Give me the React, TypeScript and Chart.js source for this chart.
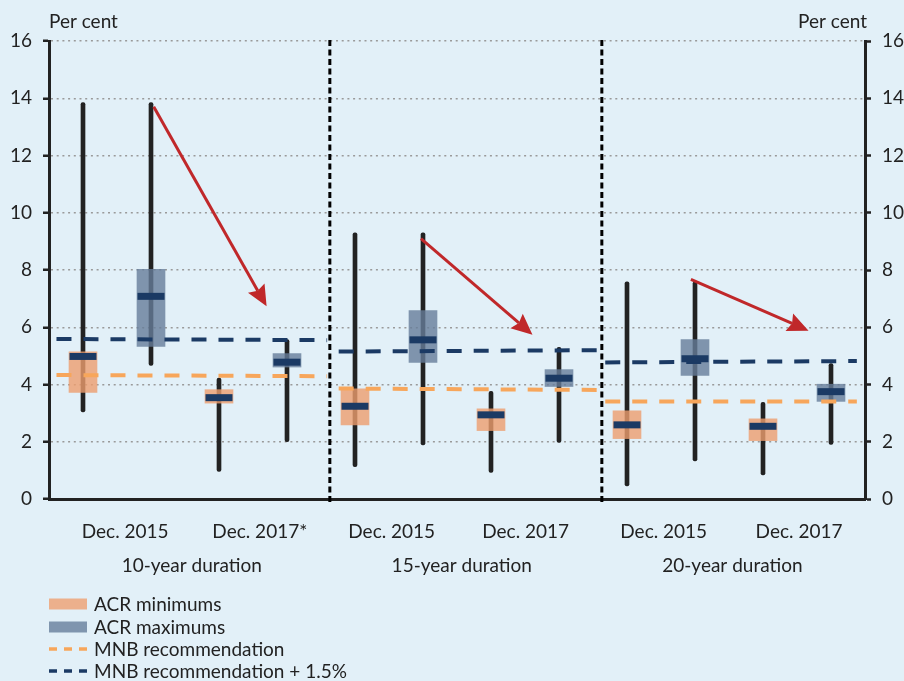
import React, { useEffect, useRef } from "react";
import { Chart, registerables } from "chart.js";

Chart.register(...registerables);

// ---------- data ----------
const periodLabels = ["Dec. 2015", "Dec. 2017*", "Dec. 2015", "Dec. 2017", "Dec. 2015", "Dec. 2017"];
const periodLabelPos = [0.62, 2.6, 4.54, 6.51, 8.54, 10.53];
const groupLabels = ["10-year duration", "15-year duration", "20-year duration"];
const groupLabelPos = [1.6, 5.57, 9.55];

// 12 boxes, per group: Dec.2015 min, Dec.2015 max, Dec.2017 min, Dec.2017 max
const boxKinds = ["min", "max", "min", "max", "min", "max", "min", "max", "min", "max", "min", "max"];
const whiskerLow = [3.04, 4.67, 0.96, 2.0, 1.13, 1.89, 0.93, 1.98, 0.46, 1.33, 0.84, 1.91];
const whiskerHigh = [13.85, 13.85, 4.22, 5.57, 9.3, 9.3, 3.76, 5.3, 7.59, 7.59, 3.38, 4.73];
const boxLow = [3.72, 5.33, 3.35, 4.61, 2.59, 4.77, 2.39, 3.93, 2.11, 4.32, 2.04, 3.41];
const boxHigh = [5.14, 8.02, 3.82, 5.08, 3.85, 6.58, 3.15, 4.52, 3.08, 5.57, 2.8, 4.01];
const medians = [4.98, 7.08, 3.54, 4.78, 3.24, 5.56, 2.94, 4.22, 2.59, 4.9, 2.54, 3.75];

// MNB reference lines per duration group
const refStart = [-0.39, 3.76, 7.68];
const refEnd = [3.59, 7.58, 11.38];
const mnbRecStart = [4.33, 3.86, 3.41];
const mnbRecEnd = [4.29, 3.81, 3.41];
const mnbPlusStart = [5.59, 5.15, 4.77];
const mnbPlusEnd = [5.55, 5.2, 4.82];

const dividerPos = [3.63, 7.63];

const arrowFromX = [1.04, 4.97, 8.94];
const arrowFromY = [13.7, 9.1, 7.67];
const arrowToX = [2.7, 6.61, 10.67];
const arrowToY = [6.73, 5.74, 5.88];

const legendLabels = ["ACR minimums", "ACR maximums", "MNB recommendation", "MNB recommendation + 1.5%"];
const unitLabel = "Per cent";

// ---------- styles ----------
const BG = "#e2f0f8";
const TEXT = "#222222";
const ORANGE_BOX = "rgba(237,157,110,0.8)";
const BLUE_BOX = "rgba(102,125,154,0.8)";
const ORANGE_SWATCH = "#ecb08c";
const BLUE_SWATCH = "#7f95ae";
const NAVY = "#1b3a64";
const ORANGE_LINE = "#f7a65b";
const RED = "#c0282a";
const FONT = "Lato";
const FS = 19;

const decorPlugin = {
  id: "decor",
  beforeDatasetsDraw(chart: any) {
    const { ctx, chartArea, scales } = chart;
    const x = scales.x;
    ctx.save();
    ctx.strokeStyle = "#000";
    ctx.lineWidth = 3;
    ctx.setLineDash([6, 3.5]);
    dividerPos.forEach((d) => {
      const px = x.getPixelForValue(d);
      ctx.beginPath();
      ctx.moveTo(px, chartArea.top - 1);
      ctx.lineTo(px, chartArea.bottom + 6);
      ctx.stroke();
    });
    ctx.restore();
  },
  afterDatasetsDraw(chart: any) {
    const { ctx, scales } = chart;
    const x = scales.x;
    const y = scales.y;
    ctx.save();
    ctx.strokeStyle = RED;
    ctx.fillStyle = RED;
    ctx.lineWidth = 3;
    for (let i = 0; i < arrowFromX.length; i++) {
      const x0 = x.getPixelForValue(arrowFromX[i]);
      const y0 = y.getPixelForValue(arrowFromY[i]);
      const x1 = x.getPixelForValue(arrowToX[i]);
      const y1 = y.getPixelForValue(arrowToY[i]);
      const ang = Math.atan2(y1 - y0, x1 - x0);
      const headLen = 21;
      const headHalf = 9.5;
      const bx = x1 - Math.cos(ang) * headLen;
      const by = y1 - Math.sin(ang) * headLen;
      ctx.beginPath();
      ctx.moveTo(x0, y0);
      ctx.lineTo(bx + Math.cos(ang) * 3, by + Math.sin(ang) * 3);
      ctx.stroke();
      const nx = -Math.sin(ang);
      const ny = Math.cos(ang);
      const nb = 3;
      ctx.beginPath();
      ctx.moveTo(x1, y1);
      ctx.lineTo(bx + nx * headHalf, by + ny * headHalf);
      ctx.lineTo(bx + Math.cos(ang) * nb, by + Math.sin(ang) * nb);
      ctx.lineTo(bx - nx * headHalf, by - ny * headHalf);
      ctx.closePath();
      ctx.fill();
    }
    ctx.restore();
  },
  afterDraw(chart: any) {
    const { ctx, chartArea } = chart;
    ctx.save();
    ctx.fillStyle = TEXT;
    ctx.font = `${FS}px ${FONT}`;
    ctx.textBaseline = "alphabetic";
    ctx.textAlign = "left";
    ctx.fillText(unitLabel, chartArea.left, 28);
    ctx.textAlign = "right";
    ctx.fillText(unitLabel, chartArea.right + 2, 28);

    // legend
    const rows = [604, 627, 649, 671];
    const sx = 49;
    const sw = 38;
    ctx.textAlign = "left";
    ctx.textBaseline = "middle";
    legendLabels.forEach((lab, i) => {
      const cy = rows[i];
      if (i === 0 || i === 1) {
        ctx.fillStyle = i === 0 ? ORANGE_SWATCH : BLUE_SWATCH;
        ctx.fillRect(sx, cy - 5.5, sw, 11);
      } else {
        ctx.strokeStyle = i === 2 ? ORANGE_LINE : NAVY;
        ctx.lineWidth = 3.5;
        ctx.setLineDash([8, 7]);
        ctx.beginPath();
        ctx.moveTo(sx, cy);
        ctx.lineTo(sx + sw, cy);
        ctx.stroke();
        ctx.setLineDash([]);
      }
      ctx.fillStyle = TEXT;
      ctx.fillText(lab, 94, cy + 1);
    });
    ctx.restore();
  },
};

export default function App() {
  const ref = useRef<HTMLCanvasElement | null>(null);

  useEffect(() => {
    if (!ref.current) return;
    Chart.defaults.font.family = FONT;
    Chart.defaults.font.size = FS;
    Chart.defaults.color = TEXT;

    const idx = boxKinds.map((_, i) => i);
    const datasets: any[] = [];

    datasets.push({
      type: "bar",
      label: "whiskers",
      data: idx.map((i) => ({ x: i, y: [whiskerLow[i], whiskerHigh[i]] })),
      backgroundColor: "#222222",
      barThickness: 4,
      borderRadius: 2,
      borderSkipped: false,
      borderWidth: 0,
      grouped: false,
      order: 6,
    });
    datasets.push({
      type: "bar",
      label: legendLabels[0],
      data: idx.filter((i) => boxKinds[i] === "min").map((i) => ({ x: i, y: [boxLow[i], boxHigh[i]] })),
      backgroundColor: ORANGE_BOX,
      barThickness: 28,
      borderWidth: 0,
      grouped: false,
      order: 5,
    });
    datasets.push({
      type: "bar",
      label: legendLabels[1],
      data: idx.filter((i) => boxKinds[i] === "max").map((i) => ({ x: i, y: [boxLow[i], boxHigh[i]] })),
      backgroundColor: BLUE_BOX,
      barThickness: 28,
      borderWidth: 0,
      grouped: false,
      order: 5,
    });
    for (let g = 0; g < refStart.length; g++) {
      datasets.push({
        type: "line",
        label: legendLabels[2],
        data: [
          { x: refStart[g], y: mnbRecStart[g] },
          { x: refEnd[g], y: mnbRecEnd[g] },
        ],
        borderColor: ORANGE_LINE,
        borderWidth: 4,
        borderDash: [15, 12],
        pointRadius: 0,
        fill: false,
        order: 3,
      });
      datasets.push({
        type: "line",
        label: legendLabels[3],
        data: [
          { x: refStart[g], y: mnbPlusStart[g] },
          { x: refEnd[g], y: mnbPlusEnd[g] },
        ],
        borderColor: NAVY,
        borderWidth: 4,
        borderDash: [15, 12],
        pointRadius: 0,
        fill: false,
        order: 3,
      });
    }
    datasets.push({
      type: "line",
      label: "medians",
      data: idx.map((i) => ({ x: i, y: medians[i] })),
      showLine: false,
      pointStyle: "line",
      pointRadius: 13.5,
      pointBorderWidth: 7,
      pointBorderColor: NAVY,
      pointBackgroundColor: NAVY,
      order: 1,
    });

    const chart = new Chart(ref.current, {
      type: "bar",
      data: { datasets },
      plugins: [decorPlugin],
      options: {
        animation: false,
        responsive: false,
        events: [],
        layout: { padding: { top: 41, left: 0, right: 0, bottom: 100 } },
        plugins: {
          legend: { display: false },
          tooltip: { enabled: false },
        },
        scales: {
          x: {
            type: "linear",
            position: "bottom",
            min: -0.5,
            max: 11.5,
            offset: false,
            weight: 0,
            grid: { display: false, drawTicks: false, offset: false },
            border: { display: true, color: "#222222", width: 3 },
            afterBuildTicks: (s: any) => {
              s.ticks = periodLabelPos.map((v) => ({ value: v }));
            },
            afterFit: (s: any) => {
              s.height = 48;
            },
            ticks: {
              autoSkip: false,
              maxRotation: 0,
              padding: 21,
              color: TEXT,
              font: { size: FS, family: FONT },
              callback: (_v: any, i: number) => periodLabels[i],
            },
          },
          x2: {
            type: "linear",
            position: "bottom",
            min: -0.5,
            max: 11.5,
            offset: false,
            weight: 1,
            grid: { display: false, drawTicks: false, offset: false },
            border: { display: false },
            afterBuildTicks: (s: any) => {
              s.ticks = groupLabelPos.map((v) => ({ value: v }));
            },
            afterFit: (s: any) => {
              s.height = 34;
            },
            ticks: {
              autoSkip: false,
              maxRotation: 0,
              padding: 7,
              color: TEXT,
              font: { size: FS, family: FONT },
              callback: (_v: any, i: number) => groupLabels[i],
            },
          },
          y: {
            type: "linear",
            position: "left",
            min: 0,
            max: 16,
            afterFit: (s: any) => {
              s.width = 49;
            },
            ticks: { stepSize: 2, padding: 11, color: TEXT, font: { size: FS, family: FONT } },
            grid: {
              color: "#9a9a9a",
              lineWidth: 1.5,
              tickColor: "#222222",
              tickWidth: 2.5,
              tickLength: 6,
            },
            border: { display: true, color: "#222222", width: 3, dash: [2, 3.7] },
          },
          y2: {
            type: "linear",
            position: "right",
            min: 0,
            max: 16,
            afterFit: (s: any) => {
              s.width = 39;
            },
            ticks: { stepSize: 2, padding: 11, color: TEXT, font: { size: FS, family: FONT } },
            grid: {
              drawOnChartArea: false,
              color: "#9a9a9a",
              tickColor: "#222222",
              tickWidth: 2.5,
              tickLength: 6,
            },
            border: { display: true, color: "#222222", width: 3 },
          },
        },
      } as any,
    });
    return () => chart.destroy();
  }, []);

  return (
    <div
      style={{
        position: "absolute",
        left: 0,
        top: 0,
        width: 904,
        height: 681,
        background: BG,
        overflow: "hidden",
      }}
    >
      <canvas ref={ref} width={904} height={681} style={{ display: "block" }} />
    </div>
  );
}
